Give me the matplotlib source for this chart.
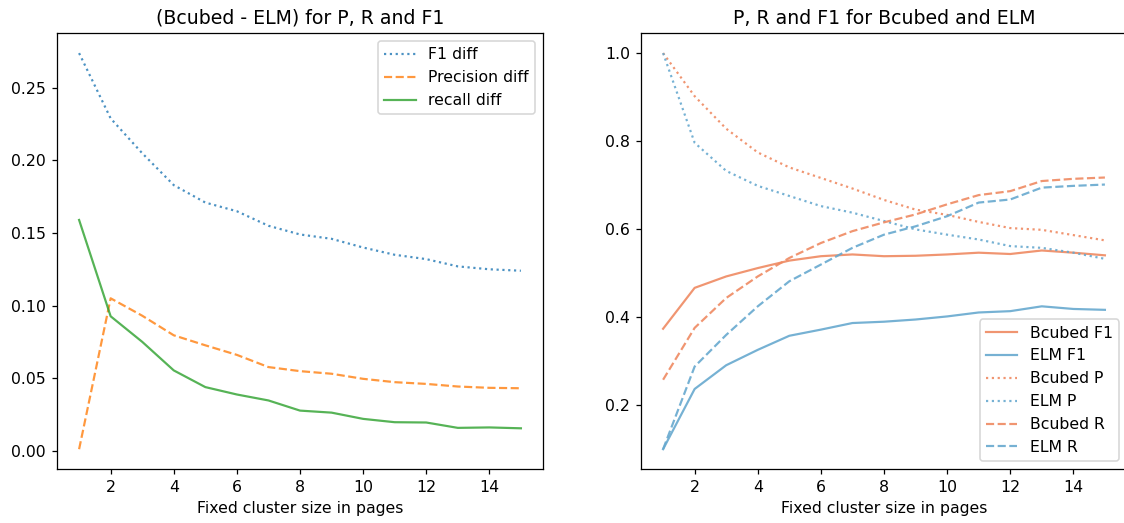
import matplotlib
matplotlib.use("Agg")
import matplotlib.pyplot as plt

sizes = list(range(1, 16))

f1_diff = [0.274, 0.229, 0.205, 0.183, 0.171, 0.165, 0.155, 0.149, 0.146, 0.140, 0.135, 0.132, 0.127, 0.125, 0.124]
precision_diff = [0.001, 0.105, 0.093, 0.0795, 0.0726, 0.0660, 0.0576, 0.0548, 0.0530, 0.0495, 0.0472, 0.0460, 0.0442, 0.0433, 0.0430]
recall_diff = [0.159, 0.0926, 0.075, 0.0553, 0.0438, 0.0387, 0.0346, 0.0276, 0.0262, 0.0219, 0.0196, 0.0194, 0.0157, 0.0160, 0.0154]

bcubed_f1 = [0.373, 0.466, 0.492, 0.511, 0.528, 0.538, 0.542, 0.538, 0.539, 0.542, 0.546, 0.543, 0.551, 0.546, 0.540]
elm_f1 = [0.099, 0.236, 0.290, 0.325, 0.357, 0.371, 0.386, 0.389, 0.394, 0.401, 0.410, 0.413, 0.424, 0.418, 0.416]
bcubed_p = [1.0, 0.902, 0.828, 0.774, 0.740, 0.716, 0.692, 0.666, 0.644, 0.632, 0.616, 0.602, 0.598, 0.586, 0.574]
elm_p = [1.0, 0.796, 0.732, 0.698, 0.675, 0.652, 0.637, 0.618, 0.599, 0.587, 0.576, 0.561, 0.557, 0.546, 0.532]
bcubed_r = [0.257, 0.375, 0.443, 0.492, 0.534, 0.568, 0.595, 0.615, 0.633, 0.656, 0.677, 0.686, 0.709, 0.714, 0.717]
elm_r = [0.099, 0.287, 0.359, 0.424, 0.481, 0.519, 0.557, 0.587, 0.606, 0.629, 0.660, 0.667, 0.694, 0.698, 0.701]

W, H = 1124, 523
DPI = 113
plt.rcParams['lines.linewidth'] = 1.4

fig = plt.figure(figsize=(W / DPI, H / DPI), dpi=DPI)
top, bottom = 33.3, 469
ax1 = fig.add_axes([57 / W, (H - bottom) / H, (543 - 57) / W, (bottom - top) / H])
ax2 = fig.add_axes([641 / W, (H - bottom) / H, (1127 - 641) / W, (bottom - top) / H])

ax1.plot(sizes, f1_diff, ':', color='tab:blue', alpha=0.8, label='F1 diff')
ax1.plot(sizes, precision_diff, '--', color='tab:orange', alpha=0.8, label='Precision diff')
ax1.plot(sizes, recall_diff, '-', color='tab:green', alpha=0.8, label='recall diff')
ax1.set_title('(Bcubed - ELM) for P, R and F1')
ax1.set_xlabel('Fixed cluster size in pages')
ax1.set_xticks([2, 4, 6, 8, 10, 12, 14])
ax1.legend(loc='upper right')

cb = '#ef8a62'
ce = '#67a9cf'
ax2.plot(sizes, bcubed_f1, '-', color=cb, alpha=0.9, label='Bcubed F1')
ax2.plot(sizes, elm_f1, '-', color=ce, alpha=0.9, label='ELM F1')
ax2.plot(sizes, bcubed_p, ':', color=cb, alpha=0.9, label='Bcubed P')
ax2.plot(sizes, elm_p, ':', color=ce, alpha=0.9, label='ELM P')
ax2.plot(sizes, bcubed_r, '--', color=cb, alpha=0.9, label='Bcubed R')
ax2.plot(sizes, elm_r, '--', color=ce, alpha=0.9, label='ELM R')
ax2.set_title('P, R and F1 for Bcubed and ELM')
ax2.set_xlabel('Fixed cluster size in pages')
ax2.set_xticks([2, 4, 6, 8, 10, 12, 14])
ax2.legend(loc='lower right')

fig.savefig('out.png', dpi=DPI, facecolor='white')
